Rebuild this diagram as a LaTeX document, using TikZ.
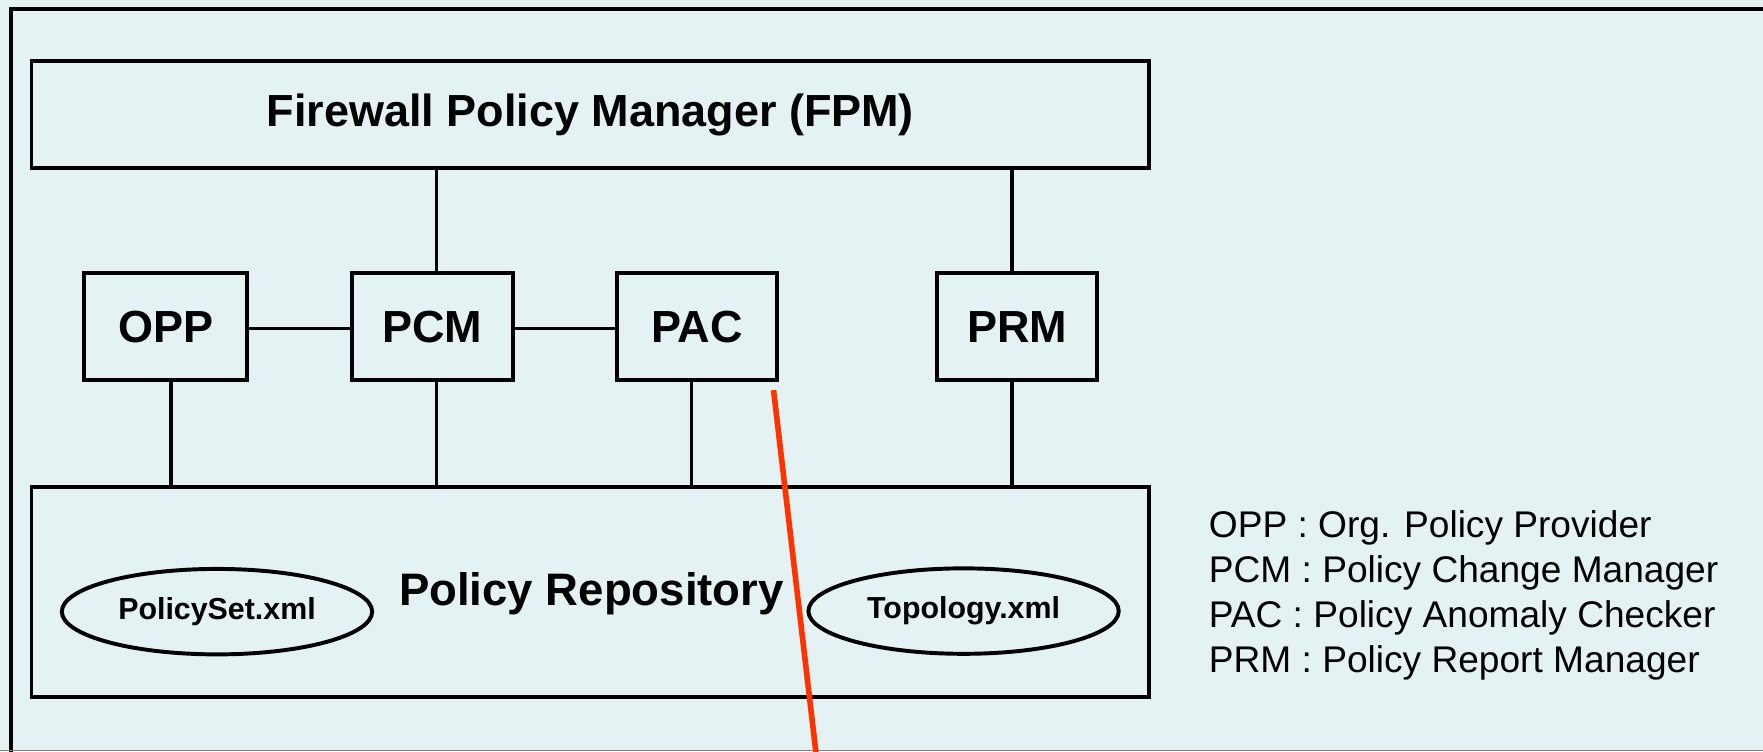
\documentclass[tikz,border=0pt]{standalone}
\usepackage{fontspec}
\setmainfont{Liberation Sans}
\usetikzlibrary{shapes.geometric}
\definecolor{bgc}{HTML}{E4F2F3}
\definecolor{redl}{HTML}{FF3300}
\begin{document}
\begin{tikzpicture}[x=1pt,y=-1pt,
  box/.style={draw,line width=3.5pt,inner sep=0pt,font=\fontsize{40}{46}\selectfont\bfseries},
  small/.style={box,minimum width=143pt,minimum height=95pt},
  wide/.style={box,minimum width=994pt},
  file/.style={draw,ellipse,line width=3.5pt,inner sep=0pt,minimum width=276pt,minimum height=76pt,font=\fontsize{27}{30}\selectfont\bfseries},
  conn/.style={line width=3pt},
  legend/.style={anchor=base west,inner sep=0pt,font=\fontsize{33}{38}\selectfont}]
\useasboundingbox (0,0) rectangle (1568,668);
\fill[bgc] (0,0) rectangle (1568,668);
% outer frame
\draw[line width=4pt] (10,700) -- (10,8) -- (1600,8);
\draw[line width=1.2pt,gray] (0,667.4) -- (1568,667.4);
% boxes
\node[wide,minimum height=95pt] (fpm) at (525,102) {Firewall Policy Manager (FPM)};
\node[small,minimum width=145pt] (opp) at (147.5,290.5) {OPP};
\node[small] (pcm) at (384.5,290.5) {PCM};
\node[small,minimum width=142pt] (pac) at (620,290.5) {PAC};
\node[small] (prm) at (904.5,290.5) {PRM};
\node[wide,minimum height=187pt] (repo) at (525,526.5) {};
\node[font=\fontsize{40.5}{46}\selectfont\bfseries,inner sep=0pt] (repol) at (526,528) {Policy Repository};
\node[file] (ps) at (193,544) {PolicySet.xml};
\node[file] (topo) at (857,543.5) {Topology.xml};
% connectors
\draw[conn] ([xshift=3.5pt]pcm.north) -- ([xshift=3.5pt]pcm.north |- fpm.south);
\draw[conn] ([xshift=-4.5pt]prm.north) -- ([xshift=-4.5pt]prm.north |- fpm.south);
\draw[conn] ([yshift=-1.5pt]opp.east) -- ([yshift=-1.5pt]pcm.west);
\draw[conn] ([yshift=-1.5pt]pcm.east) -- ([yshift=-1.5pt]pac.west);
\draw[conn] ([xshift=4.5pt]opp.south) -- ([xshift=4.5pt]opp.south |- repo.north);
\draw[conn] ([xshift=3.5pt]pcm.south) -- ([xshift=3.5pt]pcm.south |- repo.north);
\draw[conn] ([xshift=-5pt]pac.south) -- ([xshift=-5pt]pac.south |- repo.north);
\draw[conn] ([xshift=-4.5pt]prm.south) -- ([xshift=-4.5pt]prm.south |- repo.north);
% red line
\coordinate (r1) at (688,347);
\coordinate (r2) at (726,672);
\draw[redl,line width=5pt] (r1) -- (r2);
% legend
\node[legend] (l1) at (1075,478) {OPP : Org. Policy Provider};
\node[legend] (l2) at (1075,518) {PCM : Policy Change Manager};
\node[legend] (l3) at (1075,558) {PAC : Policy Anomaly Checker};
\node[legend] (l4) at (1075,598) {PRM : Policy Report Manager};
\end{tikzpicture}
\end{document}
